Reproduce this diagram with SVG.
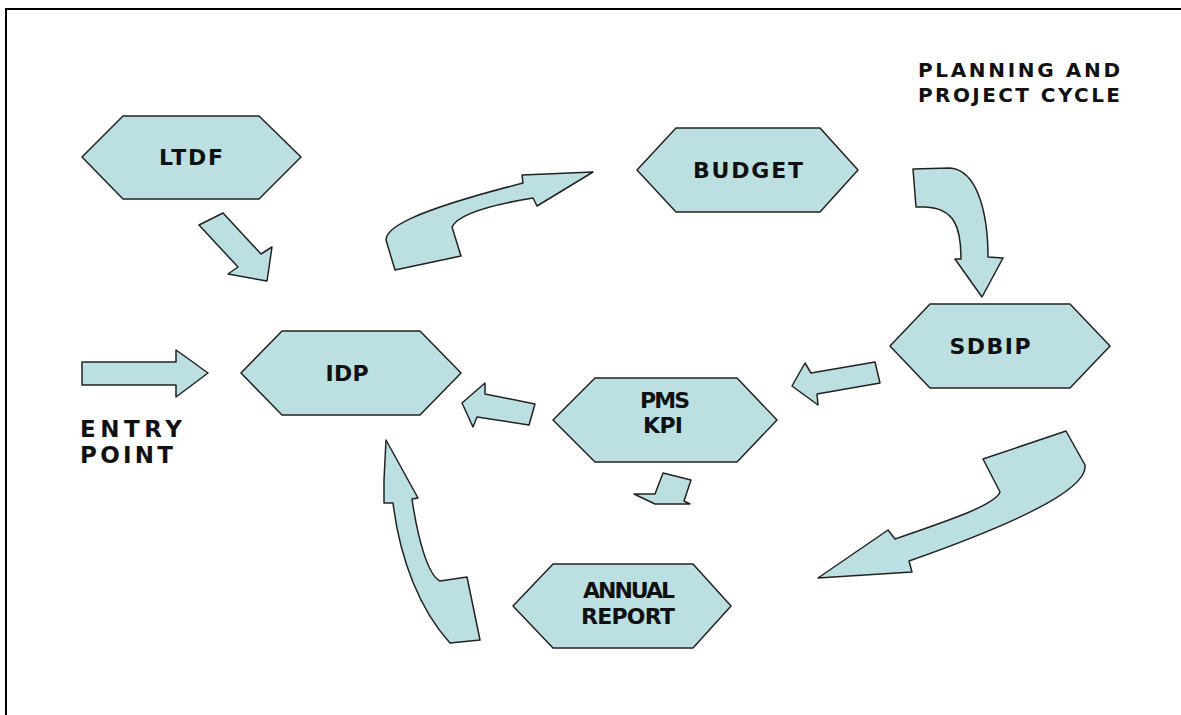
<svg xmlns="http://www.w3.org/2000/svg" width="1181" height="715" viewBox="0 0 1181 715">
<style>
.s{fill:#bce0e2;stroke:#222;stroke-width:1.5;stroke-linejoin:round}
.t{font-family:"DejaVu Sans",sans-serif;font-weight:bold;font-size:22px;fill:#111;text-anchor:middle}
.l{font-family:"DejaVu Sans",sans-serif;font-weight:bold;font-size:20px;fill:#111}
.e{font-family:"DejaVu Sans",sans-serif;font-weight:bold;font-size:23px;fill:#111}
</style>
<rect x="6" y="9" width="1185" height="715" fill="#fff" stroke="#000" stroke-width="2"/>
<g id="connectors">
<polygon class="s" points="82,362 176,362 176,350 208,373 176,397 176,385 82,385"/>
<polygon class="s" points="199,225 223,213 261,254 272,247 267,281 228,274 238,267"/>
<path class="s" d="M395,270 L386,240 C386,228 410,212 523,183 L522,175 L593,172 L537,206 L533,198 C490,205 458,214 452,227 L461,256 Z"/>
<path class="s" d="M913,169 L950,168 C978,170 988,215 988,257 L1003,258 L982,297 L955,259 L961,259 C961,228 955,208 925,207 L916,207 Z"/>
<polygon class="s" points="792,386 805,363 811,373 875,362 880,383 817,394 818,405"/>
<polygon class="s" points="462,403 485,383 485,394 535,404 529,425 477,417 473,427"/>
<polygon class="s" points="663,473 691,480 684,501 690,504 655,504 634,494 655,494"/>
<path class="s" d="M1066,431 L1085,465 C1088,485 1040,515 909,561 L912,572 L818,578 L888,530 L895,539 C950,520 995,505 1000,492 L983,459 Z"/>
<path class="s" d="M386,440 L418,498 L412,499 C418,540 428,575 440,581 L467,577 L480,640 L450,643 C420,610 400,560 393,503 L384,503 L384,480 Z"/>
</g>
<g id="ltdf"><polygon class="s" points="82,157 123,116 259,116 301,157 259,199 123,199"/><text class="t" x="191" y="165" textLength="64">LTDF</text></g>
<g id="budget"><polygon class="s" points="637,170 676,128 820,128 858,170 820,212 676,212"/><text class="t" x="748" y="178" textLength="110">BUDGET</text></g>
<g id="sdbip"><polygon class="s" points="890,346 930,304 1070,304 1110,346 1070,388 930,388"/><text class="t" x="990" y="354" textLength="81">SDBIP</text></g>
<g id="idp"><polygon class="s" points="241,373 282,331 420,331 461,373 420,415 282,415"/><text class="t" x="347" y="381" textLength="43">IDP</text></g>
<g id="pms"><polygon class="s" points="553,420 595,378 737,378 777,420 737,462 595,462"/><text class="t" x="665" y="408" textLength="50">PMS</text><text class="t" x="663" y="433" textLength="40">KPI</text></g>
<g id="annual"><polygon class="s" points="513,606 553,564 693,564 731,606 693,648 553,648"/><text class="t" x="629" y="598" textLength="92">ANNUAL</text><text class="t" x="628" y="624" textLength="94">REPORT</text></g>
<g id="entry"><text class="e" x="80" y="437" textLength="102">ENTRY</text><text class="e" x="80" y="463" textLength="93">POINT</text></g>
<g id="title"><text class="l" x="918" y="77" textLength="202">PLANNING AND</text><text class="l" x="918" y="102" textLength="202">PROJECT CYCLE</text></g>
</svg>
